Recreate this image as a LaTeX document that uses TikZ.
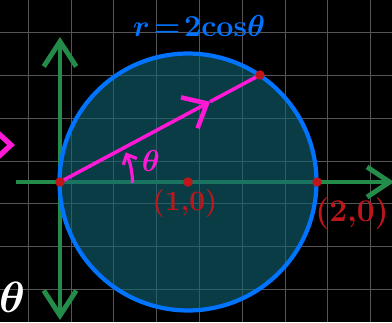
\documentclass[tikz,border=0pt]{standalone}
\usepackage{amsmath,amssymb}
\usepackage{tikz}
\usetikzlibrary{calc,arrows.meta,positioning}
\definecolor{gridGray}{RGB}{85,85,85}
\definecolor{axisGreen}{RGB}{36,140,74}
\definecolor{circBlue}{RGB}{0,115,255}
\definecolor{circFill}{RGB}{18,100,115}
\definecolor{vecPink}{RGB}{255,25,215}
\definecolor{ptRed}{RGB}{190,22,26}
\begin{document}
\begin{tikzpicture}[x=0.02cm, y=0.02cm,
  gridline/.style={gridGray, line width=0.6pt},
  axis/.style={axisGreen, line width=2.3pt,
     arrows={Straight Barb[length=5mm,width=6.5mm,line width=2.8pt]-Straight Barb[length=5mm,width=6.5mm,line width=2.8pt]}},
  circ/.style={circBlue, line width=2.4pt},
  vec/.style={vecPink, line width=2pt},
  dot/.style={circle, fill=ptRed, inner sep=0pt, minimum size=0.19cm},
  lbl/.style={inner sep=0pt, font=\fontsize{18}{18}\selectfont\bfseries\boldmath}]
  \useasboundingbox (0,0) rectangle (392,322);
  \fill[black] (0,0) rectangle (392,322);
  % grid
  \foreach \k in {0,...,8}
    \draw[gridline] ({28.3+42.8*\k},0) -- ({28.3+42.8*\k},322);
  \foreach \k in {0,...,6}
    \draw[gridline] (0,{32.5+42.8*\k}) -- (392,{32.5+42.8*\k});
  % points
  \coordinate (O) at (60,140);
  \coordinate (C) at (188,140);
  \coordinate (A) at (317,140);
  \coordinate (P) at (260,247);
  \coordinate (M) at ($(O)!0.75!(P)$);
  \coordinate (xl) at (16,140);
  \coordinate (xr) at (394,140);
  \coordinate (yt) at (60,285);
  \coordinate (yb) at (60,2);
  % axes
  \draw[axis, arrows={-Straight Barb[length=4.5mm,width=6mm,line width=2.8pt]}] (xl) -- (xr);
  \draw[axis] (yb) -- (yt);
  % circle
  \fill[circFill, opacity=0.6] (C) circle[radius=2.57cm];
  \draw[circ] (C) circle[radius=2.57cm];
  % r vector
  \draw[vec, -{Straight Barb[length=4mm,width=7mm,line width=2.6pt]}] (O) -- (M);
  \draw[vec] (M) -- (P);
  \draw[vec, line width=1.8pt, -{Straight Barb[length=1.6mm,width=3mm]}]
    ($(O)+(1.45cm,-0.02cm)$) arc[start angle=0, end angle=25, radius=1.45cm];
  \coordinate (lt) at (11,177);
  \draw[vec, line width=3pt] ($(lt)+(-13,12)$) -- (lt) -- ($(lt)+(-13,-12)$);
  % dots
  \node[dot] (dO) at (O) {};
  \node[dot] (dC) at (C) {};
  \node[dot] (dA) at (A) {};
  \node[dot] (dP) at (P) {};
  % labels
  \node[lbl, text=circBlue] (eq) at (199,296) {$r\!=\!2\!\cos\!\theta$};
  \node[lbl, text=vecPink] (th) at (151,161) {$\theta$};
  \node[lbl, text=ptRed, font=\fontsize{16}{16}\selectfont\bfseries] (lone) at (185,119) {(1,0)};
  \node[lbl, text=ptRed] (ltwo) at (352,108) {(2,0)};
  \node[lbl, text=white, font=\fontsize{26}{26}\selectfont\boldmath] (thw) at (12,25) {$\theta$};
\end{tikzpicture}
\end{document}
